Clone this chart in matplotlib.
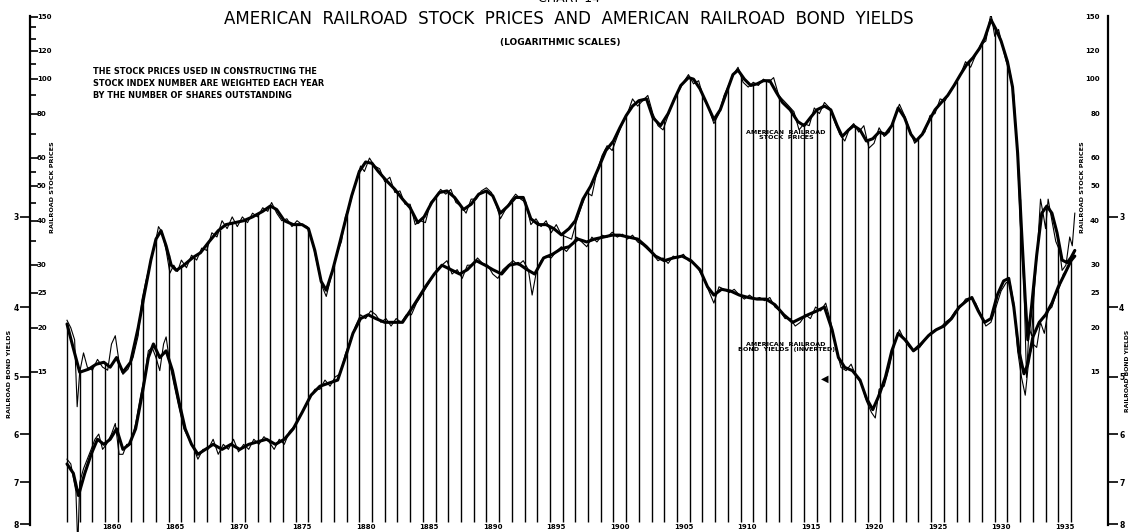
import numpy as np
import matplotlib
matplotlib.use("Agg")
import matplotlib.pyplot as plt
from matplotlib.ticker import FixedLocator, NullFormatter, NullLocator, FixedFormatter

plt.rcParams['font.family'] = ['DejaVu Sans']

# smoothed (heavy) railroad stock price curve
stock_smooth_year = [1857.0, 1857.5, 1858.0, 1858.7, 1859.3, 1859.9, 1860.4, 1860.9, 1861.4, 1862.0,
                     1862.6, 1863.1, 1863.6, 1864.0, 1864.4, 1864.8, 1865.2, 1865.6, 1866.2, 1866.9,
                     1867.5, 1868.2, 1868.9, 1869.5, 1870.2, 1870.9, 1871.6, 1872.4, 1873.0, 1873.5,
                     1874.1, 1874.8, 1875.5, 1876.0, 1876.5, 1877.0, 1877.4, 1877.9, 1878.4, 1878.9,
                     1879.4, 1880.0, 1880.5, 1881.0, 1881.5, 1882.1, 1882.8, 1883.4, 1884.0, 1884.6,
                     1885.1, 1885.7, 1886.3, 1886.9, 1887.5, 1888.2, 1888.8, 1889.4, 1890.0, 1890.5,
                     1891.1, 1891.7, 1892.3, 1892.9, 1893.5, 1894.1, 1894.7, 1895.3, 1895.9, 1896.5,
                     1897.0, 1897.6, 1898.2, 1898.8, 1899.4, 1900.0, 1900.5, 1901.0, 1901.5, 1902.0,
                     1902.6, 1903.1, 1903.7, 1904.3, 1904.8, 1905.3, 1905.9, 1906.3, 1906.8, 1907.3,
                     1907.9, 1908.4, 1908.9, 1909.4, 1909.8, 1910.3, 1910.8, 1911.3, 1911.8, 1912.3,
                     1912.8, 1913.3, 1913.9, 1914.5, 1915.0, 1915.5, 1916.0, 1916.6, 1917.1, 1917.6,
                     1918.0, 1918.5, 1918.9, 1919.4, 1919.9, 1920.4, 1920.9, 1921.4, 1921.9, 1922.4,
                     1922.9, 1923.4, 1923.8, 1924.3, 1924.8, 1925.3, 1925.8, 1926.3, 1926.8, 1927.3,
                     1927.8, 1928.3, 1928.8, 1929.2, 1929.7, 1930.1, 1930.5, 1931.0, 1931.4, 1931.8,
                     1932.1, 1932.4, 1932.6, 1932.9, 1933.3, 1933.7, 1934.1, 1934.5, 1934.9, 1935.3,
                     1935.7, 1936.0, 1936.3]
stock_smooth = [20.5, 17.5, 15.0, 15.3, 15.8, 16.0, 15.5, 16.5, 15.0, 16.0,
                20.0, 25.0, 31.0, 35.5, 37.5, 34.0, 30.0, 29.0, 30.0, 31.5,
                32.5, 35.0, 37.5, 39.0, 39.5, 40.0, 41.0, 42.5, 44.0, 43.0,
                40.0, 39.0, 39.0, 38.0, 33.0, 27.0, 25.5, 29.0, 34.0, 40.0,
                47.0, 55.0, 58.5, 58.0, 55.0, 52.0, 49.0, 46.0, 43.5, 39.5,
                41.0, 45.0, 48.0, 48.5, 46.5, 43.0, 44.5, 47.5, 48.5, 47.0,
                42.0, 44.0, 46.5, 46.5, 40.5, 39.0, 39.0, 38.0, 36.5, 38.0,
                40.0, 46.0, 50.0, 56.0, 63.0, 67.0, 73.0, 79.0, 84.0, 87.0,
                88.0, 78.0, 74.0, 80.0, 88.0, 96.0, 101.0, 100.0, 94.0, 86.0,
                77.0, 82.0, 92.0, 103.0, 106.0, 100.0, 96.0, 97.0, 99.0, 99.0,
                92.0, 86.0, 82.0, 76.0, 74.0, 78.0, 82.0, 84.0, 82.0, 74.0,
                69.0, 72.0, 74.0, 72.0, 67.0, 68.0, 71.0, 70.0, 74.0, 83.0,
                78.0, 70.0, 67.0, 70.0, 76.0, 82.0, 86.0, 90.0, 96.0, 103.0,
                110.0, 115.0, 122.0, 130.0, 147.0, 138.0, 128.0, 112.0, 95.0, 62.0,
                38.0, 24.0, 18.5, 23.0, 32.0, 42.0, 44.0, 42.0, 37.0, 31.0,
                30.5, 31.5, 33.0]

# monthly-ish railroad stock prices (light line)
stock_raw_year = [1857.0, 1857.3, 1857.6, 1857.8, 1858.0, 1858.3, 1858.6, 1859.0, 1859.4, 1859.8,
                  1860.2, 1860.5, 1860.8, 1861.1, 1861.4, 1861.8, 1862.2, 1862.6, 1862.9, 1863.2,
                  1863.6, 1863.9, 1864.2, 1864.5, 1864.8, 1865.1, 1865.4, 1865.7, 1866.0, 1866.4,
                  1866.8, 1867.2, 1867.6, 1868.0, 1868.4, 1868.8, 1869.2, 1869.6, 1870.0, 1870.4,
                  1870.8, 1871.2, 1871.6, 1872.0, 1872.4, 1872.8, 1873.1, 1873.5, 1873.9, 1874.3,
                  1874.7, 1875.1, 1875.5, 1875.9, 1876.3, 1876.7, 1877.1, 1877.4, 1877.8, 1878.2,
                  1878.6, 1878.9, 1879.3, 1879.7, 1880.1, 1880.4, 1880.8, 1881.2, 1881.6, 1882.0,
                  1882.4, 1882.8, 1883.2, 1883.6, 1884.0, 1884.4, 1884.8, 1885.2, 1885.6, 1886.0,
                  1886.4, 1886.8, 1887.2, 1887.6, 1888.0, 1888.4, 1888.8, 1889.2, 1889.6, 1890.0,
                  1890.4, 1890.8, 1891.1, 1891.5, 1891.9, 1892.3, 1892.7, 1893.1, 1893.5, 1893.9,
                  1894.3, 1894.7, 1895.1, 1895.5, 1895.9, 1896.3, 1896.7, 1897.1, 1897.5, 1897.9,
                  1898.3, 1898.7, 1899.1, 1899.5, 1899.9, 1900.3, 1900.7, 1901.1, 1901.5, 1901.9,
                  1902.3, 1902.7, 1903.1, 1903.5, 1903.9, 1904.3, 1904.7, 1905.1, 1905.5, 1905.9,
                  1906.3, 1906.7, 1907.1, 1907.5, 1907.9, 1908.3, 1908.7, 1909.1, 1909.5, 1909.8,
                  1910.2, 1910.6, 1911.0, 1911.4, 1911.8, 1912.2, 1912.6, 1913.0, 1913.4, 1913.8,
                  1914.2, 1914.6, 1915.0, 1915.4, 1915.8, 1916.2, 1916.6, 1917.0, 1917.4, 1917.8,
                  1918.2, 1918.6, 1918.9, 1919.3, 1919.7, 1920.1, 1920.5, 1920.9, 1921.3, 1921.7,
                  1922.1, 1922.5, 1922.9, 1923.3, 1923.7, 1924.1, 1924.5, 1924.9, 1925.3, 1925.7,
                  1926.1, 1926.5, 1926.9, 1927.3, 1927.7, 1928.1, 1928.5, 1928.9, 1929.3, 1929.7,
                  1930.0, 1930.3, 1930.6, 1930.9, 1931.2, 1931.5, 1931.8, 1932.0, 1932.3, 1932.5,
                  1932.7, 1932.9, 1933.1, 1933.4, 1933.6, 1933.8, 1934.0, 1934.2, 1934.5, 1934.8,
                  1935.1, 1935.3, 1935.6, 1935.9, 1936.1, 1936.3]
stock_raw = [21, 20, 18.5, 12, 15, 17, 15.5, 15.2, 16.3, 15.5,
             15.2, 18, 19, 16, 14.8, 15.3, 16.5, 19, 24, 27,
             31, 34, 38.5, 37, 33, 28.5, 30, 28.8, 31, 29.5,
             32, 31, 33.5, 33, 37, 36, 40, 38, 41, 38.5,
             41, 39.5, 42, 41, 43.5, 42.5, 45, 42, 40, 40.5,
             38.5, 40, 39, 38.5, 35, 30, 26, 24.5, 28, 32,
             35, 41, 45, 51, 57, 55, 60, 57, 56, 51.5,
             53, 48, 48.5, 44.5, 44.5, 39, 40, 39.5, 45, 46.5,
             49, 47.5, 49, 45, 44, 42, 46, 46, 48.5, 49.5,
             48, 44, 40.5, 43, 45.5, 47.5, 46, 45, 39, 40.5,
             38.5, 40, 37, 39, 36.5, 36, 35.5, 40, 44, 48,
             47, 55, 61, 65, 63, 69, 75, 80, 88, 84,
             87, 90, 80, 74, 72, 79, 87, 92, 98, 103,
             97, 99, 88, 83, 75, 80, 90, 97, 104, 108,
             98, 95, 98, 96, 100, 98, 101, 90, 87, 84,
             81, 72, 75, 74, 83, 80, 86, 83, 76, 70,
             67, 73, 75, 71, 74, 64, 66, 73, 69, 71,
             78, 85, 79, 72, 66, 69, 71, 79, 80, 88,
             87, 93, 97, 103, 112, 108, 117, 125, 128, 153,
             132, 138, 124, 112, 105, 90, 60, 40, 26, 14.5,
             20, 19, 25, 35, 46, 42, 38, 46, 40, 35,
             33, 29, 30, 36, 34, 42]

# smoothed railroad bond yields (heavy line, plotted inverted)
bond_smooth_year = [1857.0, 1857.5, 1857.9, 1858.4, 1858.9, 1859.4, 1859.9, 1860.4, 1860.9, 1861.4,
                    1861.9, 1862.4, 1862.9, 1863.4, 1863.8, 1864.3, 1864.8, 1865.3, 1865.8, 1866.3,
                    1866.8, 1867.3, 1867.9, 1868.5, 1869.2, 1869.9, 1870.6, 1871.3, 1872.0, 1872.7,
                    1873.4, 1874.1, 1874.8, 1875.5, 1876.2, 1876.9, 1877.6, 1878.3, 1878.9, 1879.5,
                    1880.1, 1880.7, 1881.3, 1882.0, 1882.7, 1883.4, 1884.0, 1884.6, 1885.2, 1885.9,
                    1886.5, 1887.2, 1887.9, 1888.5, 1889.2, 1889.9, 1890.5, 1891.2, 1891.8, 1892.5,
                    1893.2, 1893.8, 1894.5, 1895.2, 1895.9, 1896.5, 1897.2, 1897.9, 1898.5, 1899.2,
                    1899.9, 1900.5, 1901.2, 1901.9, 1902.6, 1903.3, 1904.0, 1904.7, 1905.4, 1906.1,
                    1906.8, 1907.4, 1907.9, 1908.5, 1909.2, 1909.9, 1910.6, 1911.3, 1912.0, 1912.7,
                    1913.4, 1914.1, 1914.7, 1915.3, 1916.0, 1916.6, 1917.2, 1917.7, 1918.2, 1918.8,
                    1919.4, 1919.9, 1920.4, 1920.9, 1921.4, 1921.9, 1922.4, 1923.0, 1923.6, 1924.2,
                    1924.8, 1925.4, 1926.0, 1926.6, 1927.2, 1927.8, 1928.2, 1928.7, 1929.2, 1929.7,
                    1930.2, 1930.7, 1931.1, 1931.5, 1931.9, 1932.3, 1932.6, 1933.0, 1933.5, 1934.0,
                    1934.5, 1935.0, 1935.5, 1936.0, 1936.3]
bond_smooth = [6.6, 6.8, 7.3, 6.8, 6.4, 6.1, 6.2, 6.1, 5.9, 6.3,
               6.2, 5.9, 5.3, 4.7, 4.5, 4.7, 4.6, 4.9, 5.4, 5.9,
               6.2, 6.4, 6.3, 6.2, 6.3, 6.2, 6.3, 6.2, 6.15, 6.1,
               6.2, 6.1, 5.9, 5.6, 5.3, 5.15, 5.1, 5.05, 4.7, 4.35,
               4.15, 4.1, 4.15, 4.2, 4.2, 4.2, 4.05, 3.9, 3.75, 3.6,
               3.5, 3.55, 3.6, 3.55, 3.45, 3.5, 3.55, 3.6, 3.5, 3.48,
               3.55, 3.6, 3.42, 3.38, 3.32, 3.3, 3.22, 3.25, 3.22, 3.2,
               3.18, 3.18, 3.2, 3.22, 3.3, 3.4, 3.45, 3.42, 3.4, 3.45,
               3.55, 3.75, 3.85, 3.78, 3.8, 3.85, 3.88, 3.9, 3.9, 3.97,
               4.1, 4.2, 4.15, 4.1, 4.05, 4.0, 4.3, 4.7, 4.85, 4.9,
               5.05, 5.35, 5.55, 5.3, 5.0, 4.6, 4.35, 4.45, 4.6, 4.5,
               4.38, 4.3, 4.25, 4.15, 4.0, 3.92, 3.88, 4.05, 4.2, 4.15,
               3.85, 3.68, 3.65, 4.0, 4.6, 4.95, 4.8, 4.4, 4.2, 4.1,
               3.95, 3.75, 3.6, 3.45, 3.4]

# monthly-ish railroad bond yields (light line)
bond_raw_year = [1857.0, 1857.3, 1857.5, 1857.7, 1857.85, 1858.0, 1858.3, 1858.6, 1858.9, 1859.2,
                 1859.5, 1859.8, 1860.1, 1860.5, 1860.8, 1861.1, 1861.4, 1861.7, 1862.0, 1862.4,
                 1862.8, 1863.1, 1863.4, 1863.7, 1864.0, 1864.3, 1864.6, 1864.8, 1865.1, 1865.4,
                 1865.8, 1866.2, 1866.6, 1867.0, 1867.3, 1867.7, 1868.1, 1868.5, 1868.9, 1869.3,
                 1869.7, 1870.1, 1870.5, 1870.9, 1871.3, 1871.7, 1872.1, 1872.5, 1872.9, 1873.3,
                 1873.7, 1874.1, 1874.5, 1874.9, 1875.3, 1875.7, 1876.1, 1876.5, 1876.9, 1877.3,
                 1877.7, 1878.1, 1878.5, 1878.9, 1879.3, 1879.7, 1880.1, 1880.5, 1880.9, 1881.3,
                 1881.7, 1882.1, 1882.5, 1882.9, 1883.3, 1883.7, 1884.1, 1884.5, 1884.9, 1885.3,
                 1885.7, 1886.1, 1886.5, 1886.9, 1887.3, 1887.7, 1888.1, 1888.5, 1888.9, 1889.3,
                 1889.7, 1890.1, 1890.5, 1890.9, 1891.3, 1891.7, 1892.1, 1892.5, 1892.9, 1893.3,
                 1893.6, 1893.9, 1894.3, 1894.7, 1895.1, 1895.5, 1895.9, 1896.3, 1896.7, 1897.1,
                 1897.5, 1897.9, 1898.3, 1898.7, 1899.1, 1899.5, 1899.9, 1900.3, 1900.7, 1901.1,
                 1901.5, 1901.9, 1902.3, 1902.7, 1903.1, 1903.5, 1903.9, 1904.3, 1904.7, 1905.1,
                 1905.5, 1905.9, 1906.3, 1906.7, 1907.1, 1907.5, 1907.9, 1908.3, 1908.7, 1909.1,
                 1909.5, 1909.9, 1910.3, 1910.7, 1911.1, 1911.5, 1911.9, 1912.3, 1912.7, 1913.1,
                 1913.5, 1913.9, 1914.3, 1914.7, 1915.1, 1915.5, 1915.9, 1916.3, 1916.7, 1917.1,
                 1917.5, 1917.9, 1918.3, 1918.7, 1919.1, 1919.5, 1919.9, 1920.3, 1920.6, 1920.9,
                 1921.3, 1921.7, 1922.1, 1922.5, 1922.9, 1923.3, 1923.7, 1924.1, 1924.5, 1924.9,
                 1925.3, 1925.7, 1926.1, 1926.5, 1926.9, 1927.3, 1927.7, 1928.1, 1928.5, 1928.9,
                 1929.3, 1929.7, 1930.1, 1930.5, 1930.9, 1931.2, 1931.5, 1931.8, 1932.1, 1932.4,
                 1932.7, 1933.0, 1933.3, 1933.6, 1933.9, 1934.2, 1934.5, 1934.8, 1935.1, 1935.4,
                 1935.7, 1936.0, 1936.3]
bond_raw = [6.5, 6.6, 6.9, 7.2, 8.6, 7.0, 6.7, 6.5, 6.3, 6.1,
            6.0, 6.3, 6.2, 6.0, 5.8, 6.4, 6.4, 6.2, 6.2, 5.8,
            5.3, 5.0, 4.6, 4.55, 4.7, 4.9, 4.5, 4.4, 4.8, 5.1,
            5.5, 5.9, 6.1, 6.3, 6.5, 6.3, 6.3, 6.1, 6.4, 6.2,
            6.3, 6.1, 6.35, 6.2, 6.3, 6.1, 6.2, 6.05, 6.15, 6.3,
            6.1, 6.2, 5.95, 5.85, 5.7, 5.5, 5.35, 5.2, 5.2, 5.05,
            5.15, 5.0, 4.95, 4.65, 4.45, 4.25, 4.1, 4.15, 4.05, 4.1,
            4.2, 4.15, 4.25, 4.15, 4.2, 4.1, 4.1, 3.95, 3.85, 3.75,
            3.65, 3.55, 3.5, 3.45, 3.6, 3.55, 3.65, 3.5, 3.5, 3.42,
            3.48, 3.5, 3.6, 3.65, 3.55, 3.5, 3.45, 3.5, 3.45, 3.55,
            3.85, 3.6, 3.45, 3.4, 3.42, 3.35, 3.3, 3.35, 3.28, 3.2,
            3.25, 3.3, 3.2, 3.25, 3.18, 3.2, 3.15, 3.2, 3.17, 3.22,
            3.18, 3.25, 3.28, 3.33, 3.38, 3.45, 3.42, 3.48, 3.4, 3.42,
            3.38, 3.45, 3.48, 3.55, 3.65, 3.8, 3.95, 3.75, 3.78, 3.82,
            3.78, 3.85, 3.9, 3.85, 3.9, 3.88, 3.92, 3.88, 4.0, 4.05,
            4.15, 4.15, 4.25, 4.2, 4.1, 4.15, 4.0, 4.05, 3.95, 4.2,
            4.55, 4.85, 4.9, 4.8, 5.0, 5.1, 5.4, 5.6, 5.7, 5.2,
            5.15, 4.85, 4.5, 4.3, 4.45, 4.55, 4.6, 4.55, 4.45, 4.35,
            4.3, 4.28, 4.2, 4.15, 4.05, 4.0, 3.9, 3.88, 3.95, 4.1,
            4.25, 4.2, 4.0, 3.8, 3.7, 3.7, 3.95, 4.6, 5.0, 5.3,
            4.7, 4.5, 4.55, 4.2, 4.35, 4.05, 4.0, 3.85, 3.75, 3.6,
            3.55, 3.45, 3.35]

year_lines = list(range(1857, 1937))
x_labels = list(range(1860, 1936, 5))
stock_ticks = [15, 20, 25, 30, 40, 50, 60, 80, 100, 120, 150]
stock_minor = [35, 45, 55, 70, 90, 110, 130, 140]
bond_ticks = [3, 4, 5, 6, 7, 8]
note_lines = ['THE STOCK PRICES USED IN CONSTRUCTING THE',
              'STOCK INDEX NUMBER ARE WEIGHTED EACH YEAR',
              'BY THE NUMBER OF SHARES OUTSTANDING']

W, H = 1131, 532
fig = plt.figure(figsize=(W / 100, H / 100), dpi=100)
ax = fig.add_axes([30 / W, (H - 525) / H, (1108 - 30) / W, (525 - 16) / H])
ax.set_yscale('log')
ax.set_ylim(5.58, 150.5)
ax.set_xlim(1857 - 37 / 12.71, 1936 + 37 / 12.71)

for s in ['top', 'bottom']:
    ax.spines[s].set_visible(False)
for s in ['left', 'right']:
    ax.spines[s].set_linewidth(1.6)

# year lines run up to the stock curve
tops = np.interp(year_lines, stock_smooth_year, stock_smooth)
ax.vlines(year_lines, 5.68, tops, color='black', lw=1.0)

ax.plot(stock_raw_year, stock_raw, color='black', lw=0.8, solid_joinstyle='round')
ax.plot(stock_smooth_year, stock_smooth, color='black', lw=2.2,
        solid_joinstyle='round', solid_capstyle='round')

ax.xaxis.set_major_locator(NullLocator())
ax.yaxis.set_major_locator(FixedLocator(stock_ticks))
ax.yaxis.set_minor_locator(FixedLocator(stock_minor))
ax.yaxis.set_major_formatter(NullFormatter())
ax.yaxis.set_minor_formatter(NullFormatter())
ax.tick_params(axis='y', which='both', left=True, right=True, direction='in', width=1.2)
ax.tick_params(axis='y', which='major', length=6)
ax.tick_params(axis='y', which='minor', length=4)

ytr = ax.get_yaxis_transform()
for v in stock_ticks:
    ax.text(7 / 1078, v, str(v), transform=ytr, ha='left', va='center', fontsize=5, fontweight='bold')
    ax.text(1 - 8 / 1078, v, str(v), transform=ytr, ha='right', va='center', fontsize=5, fontweight='bold')

xtr = ax.get_xaxis_transform()
for xl in x_labels:
    ax.text(xl + 0.5, -2 / 509, str(xl), transform=xtr, ha='center', va='center',
            fontsize=5, fontweight='bold')

ax2 = ax.twinx()
ax2.set_yscale('log')
ax2.set_ylim(8.02, 1.58)
for s in ['top', 'bottom', 'left', 'right']:
    ax2.spines[s].set_visible(False)
ax2.plot(bond_raw_year, bond_raw, color='black', lw=0.8, solid_joinstyle='round', clip_on=False)
ax2.plot(bond_smooth_year, bond_smooth, color='black', lw=2.2,
         solid_joinstyle='round', solid_capstyle='round')
ax2.yaxis.set_major_locator(FixedLocator(bond_ticks))
ax2.yaxis.set_major_formatter(FixedFormatter([str(b) for b in bond_ticks]))
ax2.yaxis.set_minor_locator(NullLocator())
ax2.yaxis.set_minor_formatter(NullFormatter())
ax2.tick_params(axis='y', which='major', left=True, right=True, labelleft=True, labelright=True,
                direction='out', length=7, width=1.2, pad=1, labelsize=5.5)
for lab in ax2.get_yticklabels():
    lab.set_fontweight('bold')

# axis names
fig.text(53 / W, 1 - 187 / H, 'RAILROAD STOCK PRICES', rotation=90, ha='center', va='center',
         fontsize=4.6, fontweight='bold')
fig.text(10 / W, 1 - 374 / H, 'RAILROAD BOND YIELDS', rotation=90, ha='center', va='center',
         fontsize=4.6, fontweight='bold')
fig.text(1083 / W, 1 - 187 / H, 'RAILROAD STOCK PRICES', rotation=90, ha='center', va='center',
         fontsize=4.6, fontweight='bold')
fig.text(1127.5 / W, 1 - 371 / H, 'RAILROAD BOND YIELDS', rotation=90, ha='center', va='center',
         fontsize=4.4, fontweight='bold')

# titles
fig.text(569 / W, 1 + 1 / H, 'CHART 14', ha='center', va='center', fontsize=9)
fig.text(569 / W, 1 - 19 / H, 'AMERICAN  RAILROAD  STOCK  PRICES  AND  AMERICAN  RAILROAD  BOND  YIELDS',
         ha='center', va='center', fontsize=12)
fig.text(560 / W, 1 - 43 / H, '(LOGARITHMIC SCALES)', ha='center', va='center', fontsize=6.5,
         fontweight='bold')

for i, line in enumerate(note_lines):
    fig.text(93 / W, 1 - (72 + 12 * i) / H, line, ha='left', va='center', fontsize=5.9,
             fontweight='bold')

fig.text(786 / W, 1 - 135 / H, 'AMERICAN  RAILROAD\nSTOCK  PRICES', ha='center', va='center',
         fontsize=4.6, fontweight='bold', linespacing=1.1)
fig.text(786 / W, 1 - 347 / H, 'AMERICAN  RAILROAD\nBOND  YIELDS  (INVERTED)', ha='center', va='center',
         fontsize=4.6, fontweight='bold', linespacing=1.1)
fig.text(825 / W, 1 - 379 / H, '\u25c0', ha='center', va='center', fontsize=7)

fig.savefig('out.png', dpi=100)
